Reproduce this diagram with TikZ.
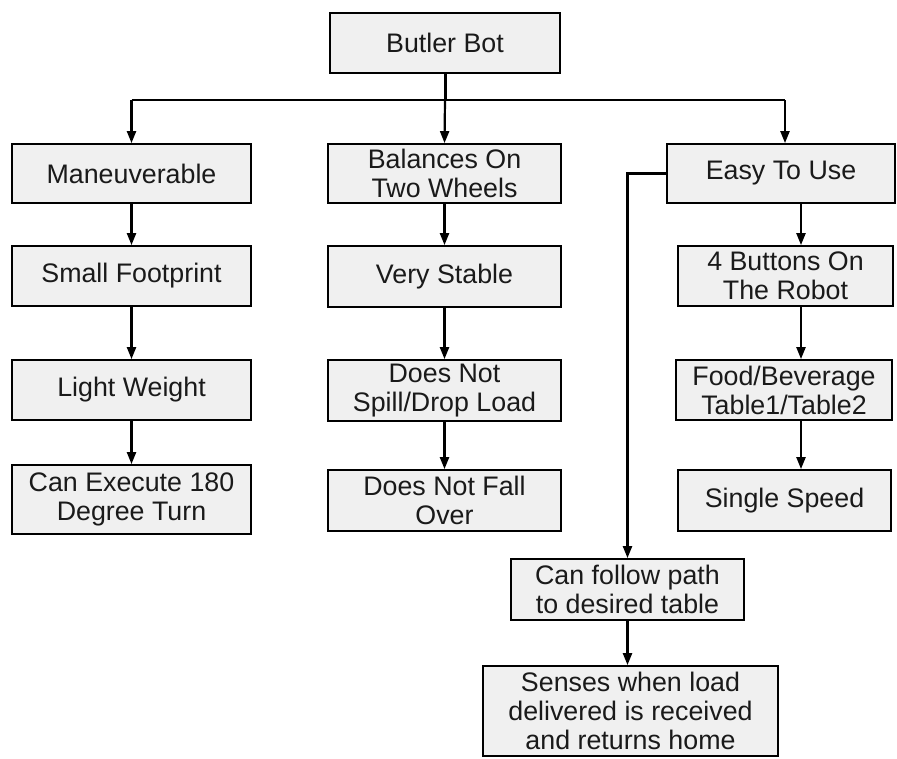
\documentclass[tikz,border=0pt]{standalone}
\usepackage{fontspec}
\setmainfont{Liberation Sans}
\usetikzlibrary{arrows.meta}
\definecolor{boxfill}{HTML}{F0F0F0}
\definecolor{txt}{HTML}{1A1A1A}
\tikzset{
  box/.style={draw=black, line width=1.8pt, fill=boxfill, text=txt,
    inner sep=0pt, align=center,
    font=\fontsize{26.8}{29}\selectfont},
  conn/.style={line width=2.2pt, -{Triangle[length=12pt,width=9pt]}},
  bus/.style={line width=1.6pt},
}
\begin{document}
\begin{tikzpicture}[x=1pt,y=-1pt]
\useasboundingbox (0,0) rectangle (897,758);
% nodes
\node[box, minimum width=230pt, minimum height=60pt] (bot) at (445,43) {Butler Bot};
\node[box, minimum width=239pt, minimum height=59pt] (man) at (131.5,173.5) {Maneuverable};
\node[box, minimum width=233pt, minimum height=59pt] (bal) at (444.5,173.5) {Balances On\\Two Wheels};
\node[box, minimum width=228pt, minimum height=59pt] (easy) at (781,173.5) {Easy To Use};
\node[box, minimum width=239pt, minimum height=60pt] (small) at (131.5,276) {Small Footprint};
\node[box, minimum width=233pt, minimum height=61pt] (stable) at (444.5,276.5) {Very Stable};
\node[box, minimum width=215pt, minimum height=60pt] (buttons) at (785.5,276) {4 Buttons On\\The Robot};
\node[box, minimum width=239pt, minimum height=60pt] (light) at (131.5,390) {Light Weight};
\node[box, minimum width=233pt, minimum height=61pt] (spill) at (444.5,390.5) {Does Not\\Spill/Drop Load};
\node[box, minimum width=216pt, minimum height=60pt] (food) at (784,390) {Food/Beverage\\Table1/Table2};
\node[box, minimum width=239pt, minimum height=69pt] (exec) at (131.5,499.5) {Can Execute 180\\Degree Turn};
\node[box, minimum width=233pt, minimum height=61pt] (fall) at (444.5,500.5) {Does Not Fall\\Over};
\node[box, minimum width=213pt, minimum height=61pt] (single) at (784.5,500.5) {Single Speed};
\node[box, minimum width=233pt, minimum height=61pt] (follow) at (627.5,589.5) {Can follow path\\to desired table};
\node[box, minimum width=295pt, minimum height=90pt] (senses) at (630.5,711) {Senses when load\\delivered is received\\and returns home};
% bus
\coordinate (busM) at (445,100);
\coordinate (busL) at (131.5,100);
\coordinate (busR) at (785,100);
\coordinate (rcol) at (801,0);
\draw[line width=3pt] (bot.south) -- (busM);
\draw[bus] (busL) -- (busR);
\draw[conn] (busL) -- (man.north);
\draw[conn] (busM) -- (bal.north);
\draw[conn] (busR) -- (busR |- easy.north);
% left column
\draw[conn] (man) -- (small);
\draw[conn] (small) -- (light);
\draw[conn] (light) -- (exec);
% middle column
\draw[conn] (bal) -- (stable);
\draw[conn] (stable) -- (spill);
\draw[conn] (spill) -- (fall);
% right column
\draw[conn] (rcol |- easy.south) -- (rcol |- buttons.north);
\draw[conn] (rcol |- buttons.south) -- (rcol |- food.north);
\draw[conn] (rcol |- food.south) -- (rcol |- single.north);
% feedback branch
\draw[conn] (easy.west) -| (follow.north);
\draw[conn] (follow) -- (follow.south |- senses.north);
\end{tikzpicture}
\end{document}
